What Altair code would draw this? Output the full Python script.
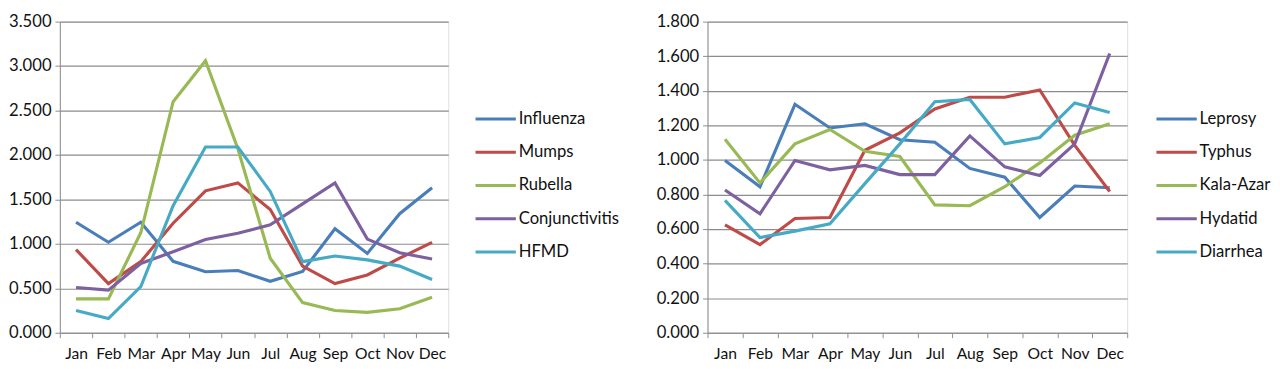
import altair as alt
import pandas as pd

months = ["Jan", "Feb", "Mar", "Apr", "May", "Jun", "Jul", "Aug", "Sep", "Oct", "Nov", "Dec"]

# Left panel series
influenza = [1.243, 1.018, 1.243, 0.804, 0.686, 0.700, 0.579, 0.690, 1.171, 0.893, 1.340, 1.632]
mumps = [0.936, 0.553, 0.800, 1.232, 1.597, 1.686, 1.386, 0.750, 0.553, 0.650, 0.839, 1.018]
rubella = [0.382, 0.382, 1.125, 2.600, 3.061, 2.070, 0.839, 0.339, 0.250, 0.230, 0.270, 0.400]
conjunctivitis = [0.510, 0.480, 0.780, 0.911, 1.050, 1.120, 1.214, 1.450, 1.686, 1.054, 0.900, 0.829]
hfmd = [0.250, 0.160, 0.518, 1.430, 2.090, 2.090, 1.590, 0.800, 0.864, 0.820, 0.750, 0.600]

# Right panel series
leprosy = [0.997, 0.845, 1.322, 1.185, 1.209, 1.117, 1.102, 0.951, 0.900, 0.667, 0.849, 0.839]
typhus = [0.624, 0.510, 0.661, 0.667, 1.056, 1.157, 1.295, 1.363, 1.363, 1.405, 1.084, 0.817]
kala_azar = [1.120, 0.867, 1.093, 1.176, 1.050, 1.020, 0.740, 0.735, 0.845, 0.983, 1.143, 1.209]
hydatid = [0.826, 0.688, 0.997, 0.943, 0.968, 0.915, 0.915, 1.139, 0.960, 0.910, 1.093, 1.616]
diarrhea = [0.766, 0.551, 0.588, 0.630, 0.863, 1.093, 1.337, 1.350, 1.093, 1.130, 1.330, 1.275]

left_names = ["Influenza", "Mumps", "Rubella", "Conjunctivitis", "HFMD"]
right_names = ["Leprosy", "Typhus", "Kala-Azar", "Hydatid", "Diarrhea"]
left_ticks = [0, 0.5, 1.0, 1.5, 2.0, 2.5, 3.0, 3.5]
right_ticks = [0, 0.2, 0.4, 0.6, 0.8, 1.0, 1.2, 1.4, 1.6, 1.8]
palette = ["#4A7EBB", "#BE4B48", "#98B954", "#7D60A0", "#46AAC5"]

FONT = "Lato"
FS = 17
GRID = "#8C8C8C"


def to_long(names, series):
    rows = []
    for n, vals in zip(names, series):
        for m, v in zip(months, vals):
            rows.append({"Month": m, "Disease": n, "Value": v})
    return pd.DataFrame(rows)


def panel(df, names, ticks, width, legend_x, legend_y):
    return alt.Chart(df).mark_line(strokeWidth=3.2).encode(
        x=alt.X(
            "Month:N", sort=months, bandPosition=0.5,
            scale=alt.Scale(type="band", paddingInner=0, paddingOuter=0),
            axis=alt.Axis(title=None, tickBand="extent", labelAngle=0, grid=False,
                          tickSize=5, labelPadding=8, domainColor=GRID, tickColor=GRID,
                          labelFont=FONT, labelFontSize=16, labelColor="#111111"),
        ),
        y=alt.Y(
            "Value:Q",
            scale=alt.Scale(domain=[ticks[0], ticks[-1]], nice=False, zero=True),
            axis=alt.Axis(title=None, values=ticks, format=".3f", grid=True,
                          gridColor=GRID, gridWidth=1.2, domainColor=GRID, tickColor=GRID,
                          tickSize=5, labelPadding=4, labelFont=FONT, labelFontSize=FS,
                          labelColor="#111111"),
        ),
        color=alt.Color(
            "Disease:N", sort=names,
            scale=alt.Scale(domain=names, range=palette),
            legend=alt.Legend(title=None, orient="none", legendX=legend_x, legendY=legend_y,
                              symbolType="stroke", symbolSize=1700, symbolStrokeWidth=3.2,
                              labelFont=FONT, labelFontSize=FS, labelColor="#111111",
                              labelOffset=1, rowPadding=3),
        ),
        order=alt.Order("Disease:N"),
    ).properties(width=width, height=318)


left = panel(to_long(left_names, [influenza, mumps, rubella, conjunctivitis, hfmd]),
             left_names, left_ticks, 397, 423, 77)
right = panel(to_long(right_names, [leprosy, typhus, kala_azar, hydatid, diarrhea]),
              right_names, right_ticks, 429, 457, 77)

chart = alt.hconcat(left, right, spacing=36).resolve_scale(
    color="independent"
).resolve_legend(color="independent").properties(
    padding={"left": 0, "top": 0, "right": 0, "bottom": 0}
).configure_view(stroke=None).configure(background="white")

chart.save("out.html", embed_options={"renderer": "svg", "actions": False})
